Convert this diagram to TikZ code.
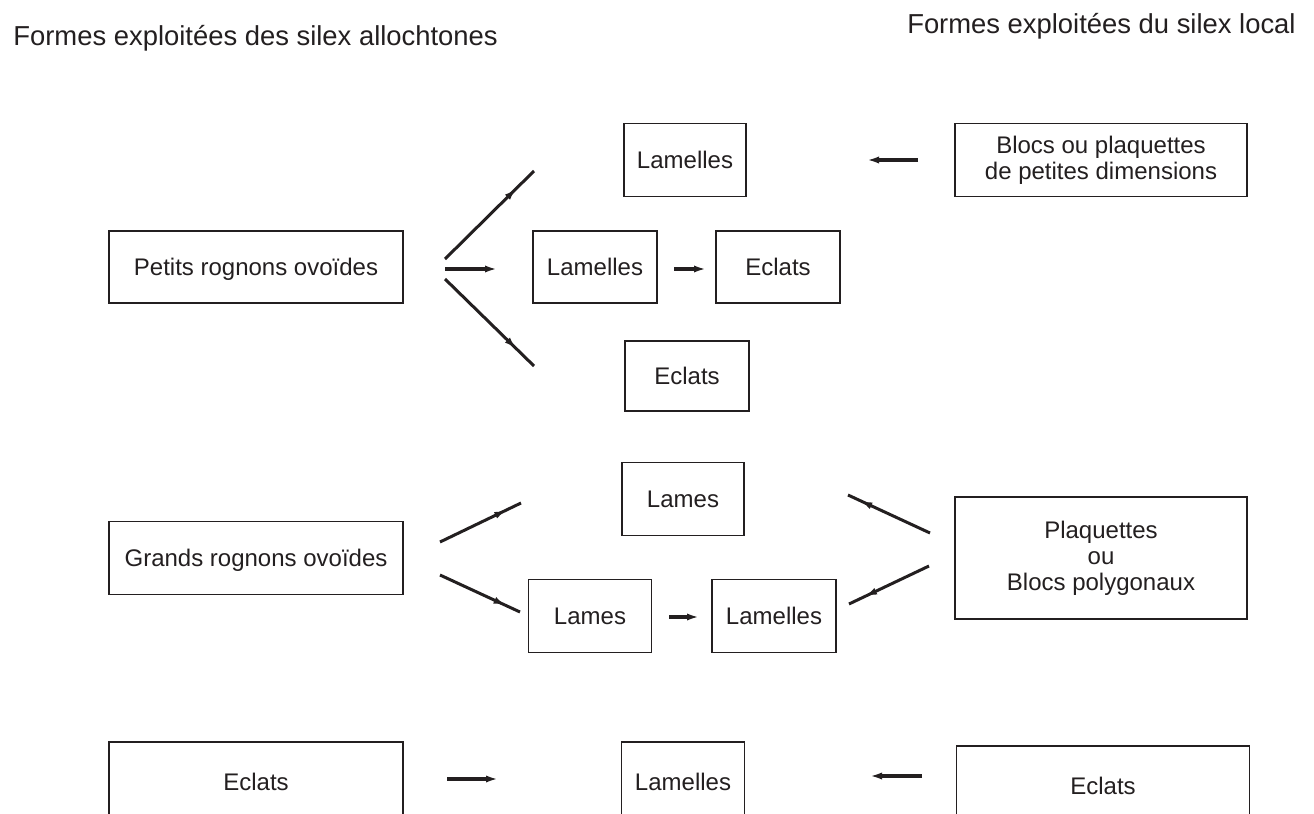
\documentclass[tikz,border=0pt]{standalone}
\usepackage{fontspec}
\setmainfont{Liberation Sans}
\usetikzlibrary{arrows.meta,decorations.markings}
\definecolor{ink}{RGB}{35,31,32}
\begin{document}
\begin{tikzpicture}[x=0.5pt,y=-0.5pt,
  box/.style={draw=ink, line width=0.75pt, rectangle, inner sep=0pt, text=ink,
    font=\fontsize{12}{13}\selectfont, align=center},
  onel/.style={text height=8.6pt, text depth=0pt},
  title/.style={text=ink, inner sep=0pt, font=\fontsize{13.7}{16}\selectfont},
  arr/.style={draw=ink, line width=1.6pt, -{Latex[length=6pt,width=3.6pt]}},
  marr/.style={draw=ink, line width=1.5pt, postaction={decorate},
    decoration={markings, mark=at position #1 with {\arrow{Latex[length=6pt,width=3.6pt]}}}}
]
\useasboundingbox (0,0) rectangle (1314,814);
\clip (0,0) rectangle (1314,814);
\fill[white] (0,0) rectangle (1314,814);

% titles
\node[title, anchor=base west] (tl) at (13,45) {Formes exploitées des silex allochtones};
\node[title, anchor=base east] (tr) at (1296,33) {Formes exploitées du silex local};

% top section
\node[box, onel, minimum width=147pt, minimum height=36pt] (A) at (256,267) {Petits rognons ovoïdes};
\node[box, onel, minimum width=61pt, minimum height=36.5pt] (L1) at (685,160) {Lamelles};
\node[box, onel, minimum width=62pt, minimum height=36pt] (L2) at (595,267) {Lamelles};
\node[box, onel, minimum width=62pt, minimum height=36pt] (E2) at (778,267) {Eclats};
\node[box, onel, minimum width=62pt, minimum height=35pt] (E3) at (687,376) {Eclats};
\node[box, minimum width=146pt, minimum height=36.5pt] (B) at (1101,160) {Blocs ou plaquettes\\de petites dimensions};

% middle section
\node[box, onel, minimum width=147pt, minimum height=36.5pt] (G) at (256,558) {Grands rognons ovoïdes};
\node[box, onel, minimum width=61pt, minimum height=36.5pt] (LA1) at (683,499) {Lames};
\node[box, onel, minimum width=61.5pt, minimum height=36.5pt] (LA2) at (590,616) {Lames};
\node[box, onel, minimum width=62pt, minimum height=36.5pt] (LL2) at (774,616) {Lamelles};
\node[box, minimum width=146pt, minimum height=61pt] (P) at (1101,558) {Plaquettes\\ou\\Blocs polygonaux};

% bottom section (cut by the lower edge)
\node[box, onel, minimum width=147pt, minimum height=40pt] (EB1) at (256,782) {Eclats};
\node[box, onel, minimum width=61.5pt, minimum height=40pt] (LB) at (683,782) {Lamelles};
\node[box, onel, minimum width=146.5pt, minimum height=40pt] (EB2) at (1103,786) {Eclats};

% arrow end points
\coordinate (a1s) at (445,259); \coordinate (a1e) at (534,171);
\coordinate (a2s) at (445,269); \coordinate (a2e) at (497,269);
\coordinate (a3s) at (445,279); \coordinate (a3e) at (534,366);
\coordinate (a4s) at (674,269); \coordinate (a4e) at (706,269);
\coordinate (a5s) at (918,160); \coordinate (a5e) at (867,160);
\coordinate (a6s) at (440,542); \coordinate (a6e) at (521,503);
\coordinate (a7s) at (440,575); \coordinate (a7e) at (520,612);
\coordinate (a8s) at (669,617); \coordinate (a8e) at (699,617);
\coordinate (a9s) at (930,533); \coordinate (a9e) at (848,495);
\coordinate (a10s) at (929,566); \coordinate (a10e) at (849,604);
\coordinate (a11s) at (447,779); \coordinate (a11e) at (498,779);
\coordinate (a12s) at (922,776); \coordinate (a12e) at (870,776);

\draw[marr=0.8] (a1s) -- (a1e);
\draw[arr] (a2s) -- (a2e);
\draw[marr=0.8] (a3s) -- (a3e);
\draw[arr] (a4s) -- (a4e);
\draw[arr] (a5s) -- (a5e);
\draw[marr=0.82] (a6s) -- (a6e);
\draw[marr=0.82] (a7s) -- (a7e);
\draw[arr] (a8s) -- (a8e);
\draw[marr=0.85] (a9s) -- (a9e);
\draw[marr=0.8] (a10s) -- (a10e);
\draw[arr] (a11s) -- (a11e);
\draw[arr] (a12s) -- (a12e);
\end{tikzpicture}
\end{document}
